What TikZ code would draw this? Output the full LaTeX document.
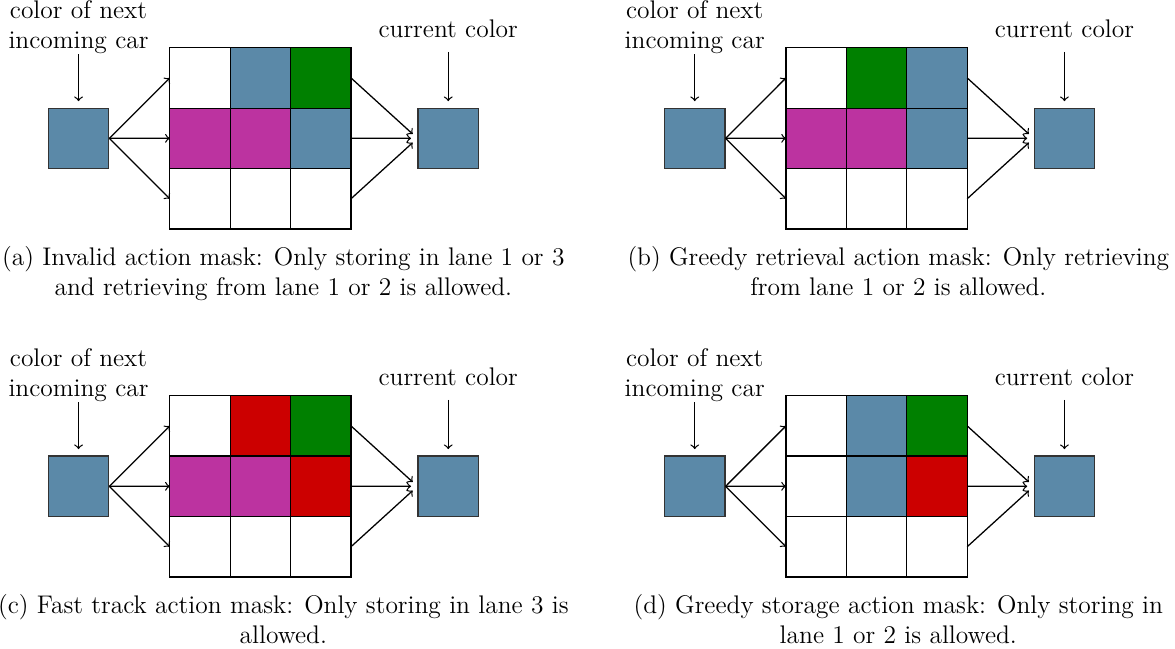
\documentclass[tikz,border=0pt]{standalone}
\usepackage{amsmath}
\usepackage{tikz}
\usetikzlibrary{positioning}
\definecolor{carblue}{RGB}{91,137,168}
\definecolor{lanegreen}{RGB}{0,128,0}
\definecolor{lanemagenta}{RGB}{188,51,160}
\definecolor{lanered}{RGB}{204,0,0}

\begin{document}
\begin{tikzpicture}[node distance=0pt, font=\large, semithick,
    cell/.style = {draw, minimum size=1cm, inner sep=0pt, outer sep=0pt},
    car/.style = {draw=black!80, fill=carblue, minimum size=1cm, inner sep=0pt},
    lbl/.style = {align=center, inner sep=0pt},
    caption/.style = {align=center, inner sep=0pt},
    into/.style = {->, shorten >=3pt}]
    \useasboundingbox (0,0) rectangle (19.45,-10.73);
    % (a) invalid action mask
    \begin{scope}
        \node [car] (a-in) at (1.30,-2.29) {};
        \node [cell] (a-11) at (3.31,-1.29) {};
        \node [cell, fill=carblue, right=of a-11] (a-12) {};
        \node [cell, fill=lanegreen, right=of a-12] (a-13) {};
        \node [cell, fill=lanemagenta, below=of a-11] (a-21) {};
        \node [cell, fill=lanemagenta, right=of a-21] (a-22) {};
        \node [cell, fill=carblue, right=of a-22] (a-23) {};
        \node [cell, below=of a-21] (a-31) {};
        \node [cell, right=of a-31] (a-32) {};
        \node [cell, right=of a-32] (a-33) {};
        \node [car] (a-out) at (7.42,-2.29) {};
        \node [lbl, above=0.88cm of a-in] (a-next) {color of next\\incoming car};
        \node [lbl, above=1.15cm of a-out] (a-cur) {current color};
        \draw [into] (a-next) -- (a-in);
        \draw [into, shorten <=0.23cm] (a-cur) -- (a-out);
        \draw [->] (a-in.east) -- (a-11.west);
        \draw [->] (a-in.east) -- (a-21.west);
        \draw [->] (a-in.east) -- (a-31.west);
        \draw [into] (a-13.east) -- (a-out.west);
        \draw [into] (a-23.east) -- (a-out.west);
        \draw [into] (a-33.east) -- (a-out.west);
        \node [caption, anchor=north] (a-cap) at (4.69,-4.07)
            {(a) Invalid action mask: Only storing in lane 1 or 3\\and retrieving from lane 1 or 2 is allowed.};
    \end{scope}
    % (b) greedy retrieval action mask
    \begin{scope}[xshift=10.2cm]
        \node [car] (b-in) at (1.30,-2.29) {};
        \node [cell] (b-11) at (3.31,-1.29) {};
        \node [cell, fill=lanegreen, right=of b-11] (b-12) {};
        \node [cell, fill=carblue, right=of b-12] (b-13) {};
        \node [cell, fill=lanemagenta, below=of b-11] (b-21) {};
        \node [cell, fill=lanemagenta, right=of b-21] (b-22) {};
        \node [cell, fill=carblue, right=of b-22] (b-23) {};
        \node [cell, below=of b-21] (b-31) {};
        \node [cell, right=of b-31] (b-32) {};
        \node [cell, right=of b-32] (b-33) {};
        \node [car] (b-out) at (7.42,-2.29) {};
        \node [lbl, above=0.88cm of b-in] (b-next) {color of next\\incoming car};
        \node [lbl, above=1.15cm of b-out] (b-cur) {current color};
        \draw [into] (b-next) -- (b-in);
        \draw [into, shorten <=0.23cm] (b-cur) -- (b-out);
        \draw [->] (b-in.east) -- (b-11.west);
        \draw [->] (b-in.east) -- (b-21.west);
        \draw [->] (b-in.east) -- (b-31.west);
        \draw [into] (b-13.east) -- (b-out.west);
        \draw [into] (b-23.east) -- (b-out.west);
        \draw [into] (b-33.east) -- (b-out.west);
        \node [caption, anchor=north] (b-cap) at (4.67,-4.07)
            {(b) Greedy retrieval action mask: Only retrieving\\from lane 1 or 2 is allowed.};
    \end{scope}
    % (c) fast track action mask
    \begin{scope}[yshift=-5.76cm]
        \node [car] (c-in) at (1.30,-2.29) {};
        \node [cell] (c-11) at (3.31,-1.29) {};
        \node [cell, fill=lanered, right=of c-11] (c-12) {};
        \node [cell, fill=lanegreen, right=of c-12] (c-13) {};
        \node [cell, fill=lanemagenta, below=of c-11] (c-21) {};
        \node [cell, fill=lanemagenta, right=of c-21] (c-22) {};
        \node [cell, fill=lanered, right=of c-22] (c-23) {};
        \node [cell, below=of c-21] (c-31) {};
        \node [cell, right=of c-31] (c-32) {};
        \node [cell, right=of c-32] (c-33) {};
        \node [car] (c-out) at (7.42,-2.29) {};
        \node [lbl, above=0.88cm of c-in] (c-next) {color of next\\incoming car};
        \node [lbl, above=1.15cm of c-out] (c-cur) {current color};
        \draw [into] (c-next) -- (c-in);
        \draw [into, shorten <=0.23cm] (c-cur) -- (c-out);
        \draw [->] (c-in.east) -- (c-11.west);
        \draw [->] (c-in.east) -- (c-21.west);
        \draw [->] (c-in.east) -- (c-31.west);
        \draw [into] (c-13.east) -- (c-out.west);
        \draw [into] (c-23.east) -- (c-out.west);
        \draw [into] (c-33.east) -- (c-out.west);
        \node [caption, anchor=north] (c-cap) at (4.69,-4.07)
            {(c) Fast track action mask: Only storing in lane 3 is\\allowed.};
    \end{scope}
    % (d) greedy storage action mask
    \begin{scope}[xshift=10.2cm, yshift=-5.76cm]
        \node [car] (d-in) at (1.30,-2.29) {};
        \node [cell] (d-11) at (3.31,-1.29) {};
        \node [cell, fill=carblue, right=of d-11] (d-12) {};
        \node [cell, fill=lanegreen, right=of d-12] (d-13) {};
        \node [cell, below=of d-11] (d-21) {};
        \node [cell, fill=carblue, right=of d-21] (d-22) {};
        \node [cell, fill=lanered, right=of d-22] (d-23) {};
        \node [cell, below=of d-21] (d-31) {};
        \node [cell, right=of d-31] (d-32) {};
        \node [cell, right=of d-32] (d-33) {};
        \node [car] (d-out) at (7.42,-2.29) {};
        \node [lbl, above=0.88cm of d-in] (d-next) {color of next\\incoming car};
        \node [lbl, above=1.15cm of d-out] (d-cur) {current color};
        \draw [into] (d-next) -- (d-in);
        \draw [into, shorten <=0.23cm] (d-cur) -- (d-out);
        \draw [->] (d-in.east) -- (d-11.west);
        \draw [->] (d-in.east) -- (d-21.west);
        \draw [->] (d-in.east) -- (d-31.west);
        \draw [into] (d-13.east) -- (d-out.west);
        \draw [into] (d-23.east) -- (d-out.west);
        \draw [into] (d-33.east) -- (d-out.west);
        \node [caption, anchor=north] (d-cap) at (4.67,-4.07)
            {(d) Greedy storage action mask: Only storing in\\lane 1 or 2 is allowed.};
    \end{scope}
\end{tikzpicture}
\end{document}
